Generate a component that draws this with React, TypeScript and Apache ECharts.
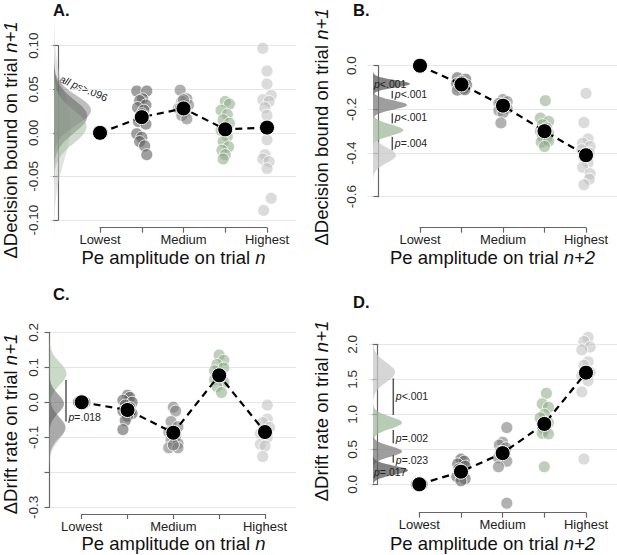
import React, { useEffect, useRef } from "react";
import * as echarts from "echarts";

// ---------- data ----------
const X_TICK_LABELS = ["Lowest", "", "Medium", "", "Highest"];

// Panel A: Δ decision bound (trial n+1) vs Pe amplitude on trial n
const A_Y_TICKS = ["-0.10", "-0.05", "0.00", "0.05", "0.10"];
const A_MEANS = [0, 0.018, 0.028, 0.004, 0.006];
const A_LOWEST = [[0.06, 0]];
const A_CAT2 = [[-0.12, 0.048], [0.12, 0.048], [0.02, 0.039], [-0.05, 0.037], [0.1, 0.032], [-0.1, 0.029], [0.05, 0.026], [0.0, 0.022], [-0.08, 0.013], [0.1, 0.01], [-0.12, -0.001], [0.0, -0.005], [-0.05, -0.01], [0.07, -0.015], [0.12, -0.025]];
const A_CAT3 = [[-0.08, 0.049], [0.08, 0.039], [-0.04, 0.036], [0.12, 0.032], [-0.12, 0.028], [0.04, 0.024], [-0.04, 0.02], [0.08, 0.016], [-0.08, 0.028], [0.0, 0.038]];
const A_CAT4 = [[0.0, 0.036], [0.1, 0.033], [-0.1, 0.026], [0.05, 0.021], [-0.05, 0.015], [0.1, 0.011], [-0.1, 0.003], [0.05, -0.004], [-0.05, -0.01], [0.08, -0.016], [-0.08, -0.02], [0.0, -0.025], [-0.05, -0.03]];
const A_CAT5 = [[-0.1, 0.097], [0.0, 0.071], [0.0, 0.056], [0.1, 0.043], [-0.1, 0.038], [0.05, 0.036], [-0.05, 0.029], [0.0, 0.02], [0.0, -0.008], [-0.05, -0.025], [-0.1, -0.03], [0.05, -0.033], [0.0, -0.041], [0.1, -0.075], [-0.08, -0.089]];
const A_DENSITY = [
  { cat: 5, mean: 0.008, sd: 0.04, h: 0.45 },
  { cat: 3, mean: 0.026, sd: 0.017, h: 1.0 },
  { cat: 2, mean: 0.019, sd: 0.019, h: 0.9 },
  { cat: 4, mean: 0.007, sd: 0.019, h: 0.88 },
];
const A_NOTE = "{i|all ps}>.096";

// Panel B: Δ decision bound (trial n+1) vs Pe amplitude on trial n+2
const B_Y_TICKS = ["-0.6", "-0.4", "-0.2", "0.0"];
const B_MEANS = [0, -0.086, -0.183, -0.3, -0.41];
const B_LOWEST: number[][] = [];
const B_CAT2 = [[-0.1, -0.055], [0.1, -0.062], [0.0, -0.072], [-0.12, -0.082], [0.12, -0.088], [-0.05, -0.097], [0.05, -0.105], [-0.1, -0.112], [0.08, -0.11]];
const B_CAT3 = [[0.0, -0.155], [0.1, -0.165], [-0.1, -0.172], [0.05, -0.18], [-0.05, -0.188], [0.1, -0.196], [-0.1, -0.205], [0.0, -0.215], [-0.05, -0.262]];
const B_CAT4 = [[0.02, -0.16], [-0.1, -0.24], [0.1, -0.255], [-0.05, -0.27], [0.05, -0.285], [-0.1, -0.3], [0.1, -0.31], [-0.05, -0.325], [0.05, -0.335], [-0.08, -0.35], [0.1, -0.345], [0.0, -0.37]];
const B_CAT5 = [[0.0, -0.127], [-0.05, -0.26], [0.05, -0.335], [-0.08, -0.355], [0.1, -0.37], [-0.1, -0.385], [0.08, -0.4], [-0.05, -0.42], [0.05, -0.445], [-0.08, -0.465], [0.1, -0.495], [0.08, -0.52], [-0.05, -0.545]];
const B_DENSITY = [
  { cat: 2, mean: -0.083, sd: 0.017, h: 1.0 },
  { cat: 3, mean: -0.18, sd: 0.021, h: 0.92 },
  { cat: 4, mean: -0.295, sd: 0.025, h: 0.82 },
  { cat: 5, mean: -0.41, sd: 0.035, h: 0.62 },
];
const B_ANNOT = [
  { text: "p<.001", at: -0.083 },
  { text: "p<.001", from: -0.116, to: -0.15, at: -0.131 },
  { text: "p<.001", from: -0.218, to: -0.264, at: -0.237 },
  { text: "p=.004", from: -0.326, to: -0.387, at: -0.353 },
];

// Panel C: Δ drift rate (trial n+1) vs Pe amplitude on trial n
const C_Y_TICKS = ["-0.3", "", "-0.1", "0.0", "0.1", "0.2"];
const C_MEANS = [0, -0.022, -0.087, 0.077, -0.085];
const C_LOWEST = [[-0.07, 0], [0.07, 0]];
const C_CAT2 = [[0.0, 0.02], [0.05, 0.014], [-0.1, 0.006], [0.1, 0.0], [-0.05, -0.008], [0.05, -0.015], [-0.1, -0.025], [0.1, -0.032], [0.0, -0.04], [-0.05, -0.052], [-0.1, -0.078]];
const C_CAT3 = [[0.0, -0.014], [0.05, -0.025], [-0.05, -0.055], [0.1, -0.07], [-0.1, -0.085], [0.05, -0.098], [-0.05, -0.108], [0.1, -0.118], [-0.1, -0.13], [0.1, -0.13], [0.0, -0.122]];
const C_CAT4 = [[0.0, 0.135], [0.1, 0.12], [-0.05, 0.108], [0.1, 0.098], [-0.1, 0.09], [0.05, 0.078], [-0.1, 0.065], [0.1, 0.058], [-0.05, 0.045], [0.05, 0.028]];
const C_CAT5 = [[0.05, -0.008], [0.05, -0.048], [-0.05, -0.058], [0.1, -0.072], [-0.1, -0.09], [0.05, -0.1], [-0.1, -0.12], [0.0, -0.125], [-0.05, -0.155]];
const C_DENSITY = [
  { cat: 4, mean: 0.082, sd: 0.032, h: 1.0 },
  { cat: 5, mean: -0.075, sd: 0.034, h: 0.9 },
  { cat: 3, mean: -0.072, sd: 0.03, h: 0.95 },
  { cat: 2, mean: -0.004, sd: 0.027, h: 0.85 },
];
const C_ANNOT = [{ text: "p=.018", from: 0.064, to: -0.055, at: -0.041 }];

// Panel D: Δ drift rate (trial n+1) vs Pe amplitude on trial n+2
const D_Y_TICKS = ["0.0", "0.5", "1.0", "1.5", "2.0"];
const D_MEANS = [0, 0.18, 0.445, 0.862, 1.595];
const D_LOWEST = [[-0.07, 0], [0.07, 0]];
const D_CAT2 = [[0.0, 0.36], [0.08, 0.33], [-0.08, 0.29], [0.1, 0.26], [-0.05, 0.22], [0.05, 0.15], [-0.1, 0.11], [0.1, 0.08], [0.0, 0.05]];
const D_CAT3 = [[0.1, 0.81], [0.0, 0.6], [-0.08, 0.56], [0.08, 0.52], [-0.05, 0.47], [0.05, 0.42], [-0.1, 0.38], [0.1, 0.33], [-0.1, 0.25], [0.1, -0.27]];
const D_CAT4 = [[0.05, 1.3], [-0.05, 1.15], [0.1, 1.1], [0.0, 1.0], [-0.1, 0.95], [0.1, 0.88], [0.0, 0.78], [-0.05, 0.73], [0.1, 0.72], [0.0, 0.25]];
const D_CAT5 = [[0.05, 2.1], [-0.05, 2.04], [0.1, 1.96], [-0.1, 1.92], [0.05, 1.75], [-0.05, 1.7], [0.1, 1.6], [-0.1, 1.55], [0.05, 1.48], [-0.1, 1.32], [-0.05, 0.36]];
const D_DENSITY = [
  { cat: 5, mean: 1.6, sd: 0.14, h: 0.63 },
  { cat: 4, mean: 0.88, sd: 0.085, h: 0.83 },
  { cat: 3, mean: 0.47, sd: 0.075, h: 0.83 },
  { cat: 2, mean: 0.2, sd: 0.065, h: 1.0 },
];
const D_ANNOT = [
  { text: "p<.001", from: 1.514, to: 0.99, at: 1.26 },
  { text: "p=.002", from: 0.776, to: 0.586, at: 0.666 },
  { text: "p=.023", from: 0.419, to: 0.309, at: 0.347 },
  { text: "p=.017", at: 0.18 },
];

// ---------- styles / layout ----------
const FONT = "'Liberation Sans', Arial, sans-serif";
const AXIS_COLOR = "#666";
const POINT_COLORS: Record<number, string> = {
  1: "rgba(80,80,80,0.85)",
  2: "rgba(95,95,95,0.75)",
  3: "rgba(120,120,120,0.72)",
  4: "rgba(140,170,135,0.7)",
  5: "rgba(190,190,190,0.7)",
};
const DENS_RGB: Record<number, string> = {
  2: "90,90,90",
  3: "125,125,125",
  4: "160,186,155",
  5: "200,200,200",
};

const PANELS = [
  {
    letter: "A.", letterPos: [53, 1.5],
    yTitle: "ΔDecision bound on trial {i|n+1}", yTitlePos: [10.5, 140],
    xTitle: "Pe amplitude on trial {i|n}", xTitlePos: [173.5, 257.3],
    geo: { axisX: 49.5, gridRight: 296, top: 45.7, bottom: 220, cat1: 100, cat5: 267, xAxisY: 227.7, yMin: -0.1, yMax: 0.1, yInt: 0.05, densStart: 54, densMax: 37, densAlpha: 0.5, annX: 0 },
    yTicks: A_Y_TICKS, means: A_MEANS, lowest: A_LOWEST, cats: [A_CAT2, A_CAT3, A_CAT4, A_CAT5], density: A_DENSITY, annot: [] as any[],
  },
  {
    letter: "B.", letterPos: [353, 1.5],
    yTitle: "ΔDecision bound on trial {i|n+1}", yTitlePos: [321, 127],
    xTitle: "Pe amplitude on trial {i|n+2}", xTitlePos: [492.5, 257.3],
    geo: { axisX: 367.5, gridRight: 617, top: 65.7, bottom: 196.7, cat1: 420, cat5: 586, xAxisY: 227.7, yMin: -0.6, yMax: 0, yInt: 0.2, densStart: 373, densMax: 37, densAlpha: 0.75, annX: 392.3 },
    yTicks: B_Y_TICKS, means: B_MEANS, lowest: B_LOWEST, cats: [B_CAT2, B_CAT3, B_CAT4, B_CAT5], density: B_DENSITY, annot: B_ANNOT,
  },
  {
    letter: "C.", letterPos: [53, 285],
    yTitle: "ΔDrift rate on trial {i|n+1}", yTitlePos: [10.5, 424],
    xTitle: "Pe amplitude on trial {i|n}", xTitlePos: [173.5, 543.5],
    geo: { axisX: 49.5, gridRight: 296, top: 332.3, bottom: 507.3, cat1: 81.7, cat5: 265, xAxisY: 514, yMin: -0.3, yMax: 0.2, yInt: 0.1, densStart: 49.5, densMax: 17, densAlpha: 0.55, annX: 66 },
    yTicks: C_Y_TICKS, means: C_MEANS, lowest: C_LOWEST, cats: [C_CAT2, C_CAT3, C_CAT4, C_CAT5], density: C_DENSITY, annot: C_ANNOT,
  },
  {
    letter: "D.", letterPos: [353, 293.5],
    yTitle: "ΔDrift rate on trial {i|n+1}", yTitlePos: [321, 411],
    xTitle: "Pe amplitude on trial {i|n+2}", xTitlePos: [492.5, 543.5],
    geo: { axisX: 368.5, gridRight: 617, top: 344.3, bottom: 484.3, cat1: 419.3, cat5: 586, xAxisY: 512.7, yMin: 0, yMax: 2, yInt: 0.5, densStart: 373, densMax: 35, densAlpha: 0.75, annX: 393.3 },
    yTicks: D_Y_TICKS, means: D_MEANS, lowest: D_LOWEST, cats: [D_CAT2, D_CAT3, D_CAT4, D_CAT5], density: D_DENSITY, annot: D_ANNOT,
  },
];

function italicP(t: string) {
  return t.startsWith("p") ? "{i|p}" + t.slice(1) : t;
}

function buildOption() {
  const grid: any[] = [];
  const xAxis: any[] = [];
  const yAxis: any[] = [];
  const series: any[] = [];
  const graphic: any[] = [];

  PANELS.forEach((p) => {
    const g = p.geo;
    const unit = (g.cat5 - g.cat1) / 4;
    const xmin = 1 - (g.cat1 - g.axisX) / unit;
    const xmax = 5 + (g.gridRight - g.cat5) / unit;
    const gi = grid.length;
    grid.push({ left: g.axisX, top: g.top, width: g.gridRight - g.axisX, height: g.bottom - g.top });
    grid.push({ left: g.cat1, top: g.xAxisY - 10, width: g.cat5 - g.cat1, height: 10 });

    xAxis.push({ type: "value", gridIndex: gi, min: xmin, max: xmax, show: false });
    xAxis.push({
      type: "value", gridIndex: gi + 1, min: 1, max: 5, interval: 1,
      axisLine: { show: true, lineStyle: { color: AXIS_COLOR, width: 1.2 } },
      axisTick: { show: true, length: 5, lineStyle: { color: AXIS_COLOR, width: 1.2 } },
      splitLine: { show: false },
      axisLabel: {
        formatter: (v: number) => X_TICK_LABELS[Math.round(v) - 1] ?? "",
        fontSize: 13, lineHeight: 12, color: "#222", margin: 6, fontFamily: FONT,
      },
    });
    const ticks = p.yTicks;
    yAxis.push({
      type: "value", gridIndex: gi, min: g.yMin, max: g.yMax, interval: g.yInt,
      axisLine: { show: true, lineStyle: { color: AXIS_COLOR, width: 1.2 } },
      axisTick: { show: true, length: 5, lineStyle: { color: AXIS_COLOR, width: 1.2 } },
      splitLine: { show: true, lineStyle: { color: "#e6e6e6", width: 1 } },
      axisLabel: {
        rotate: 90,
        formatter: (v: number) => ticks[Math.round((v - g.yMin) / g.yInt)] ?? "",
        fontSize: 13.5, color: "#333", margin: 9, fontFamily: FONT,
      },
    });
    yAxis.push({ type: "value", gridIndex: gi + 1, show: false, min: 0, max: 1 });

    const axisIdx = { xAxisIndex: gi, yAxisIndex: gi };

    // densities (half violins)
    const dens = p.density;
    series.push({
      type: "custom", ...axisIdx, clip: false, z: 1, silent: true,
      data: dens.map((d) => [1, d.mean]),
      renderItem: (params: any, api: any) => {
        const d = dens[params.dataIndex];
        const n = 60;
        const pts: number[][] = [];
        for (let i = 0; i <= n; i++) {
          const t = -3.6 + (7.2 * i) / n;
          const py = api.coord([1, d.mean + t * d.sd])[1];
          const w = g.densMax * d.h * Math.exp(-0.5 * t * t);
          pts.push([g.densStart + w, py]);
        }
        const poly = [[g.densStart, pts[0][1]], ...pts, [g.densStart, pts[n][1]]];
        return { type: "polygon", shape: { points: poly }, style: { fill: `rgba(${DENS_RGB[d.cat]},${g.densAlpha})` } };
      },
    });

    // lowest-category points (under the first mean)
    if (p.lowest.length) {
      series.push({
        type: "scatter", ...axisIdx, clip: false, z: 2, symbolSize: 12,
        itemStyle: { color: POINT_COLORS[1], borderColor: "#fff", borderWidth: 1 },
        data: p.lowest.map(([dx, v]) => [1 + dx, v]),
      });
    }
    // participant points per category
    p.cats.forEach((arr, ci) => {
      series.push({
        type: "scatter", ...axisIdx, clip: false, z: 2, symbolSize: 12,
        itemStyle: { color: POINT_COLORS[ci + 2], borderColor: "#fff", borderWidth: 1 },
        data: arr.map(([dx, v]) => [ci + 2 + dx, v]),
      });
    });
    // mean line
    series.push({
      type: "line", ...axisIdx, clip: false, z: 4,
      data: p.means.map((m, i) => [i + 1, m]),
      symbol: "circle", symbolSize: 15,
      itemStyle: { color: "#000", borderColor: "#fff", borderWidth: 1 },
      lineStyle: { color: "#000", width: 2.2, type: [7, 5] },
    });
    // p-value annotations
    const ann = p.annot;
    if (ann.length) {
      series.push({
        type: "custom", ...axisIdx, clip: false, z: 5, silent: true,
        data: ann.map((a: any) => [1, a.at]),
        renderItem: (params: any, api: any) => {
          const a = ann[params.dataIndex];
          const children: any[] = [];
          const ty = api.coord([1, a.at])[1];
          let tx = g.densStart + 1;
          if (a.from !== undefined) {
            const y1 = api.coord([1, a.from])[1];
            const y2 = api.coord([1, a.to])[1];
            children.push({ type: "line", shape: { x1: g.annX, y1, x2: g.annX, y2 }, style: { stroke: "#555", lineWidth: 1.5 } });
            tx = g.annX + 2.5;
          }
          children.push({
            type: "text",
            style: {
              text: italicP(a.text), x: tx, y: ty, align: "left", verticalAlign: "middle",
              fontSize: 10.5, lineHeight: 11, fontFamily: FONT, fill: "#222",
              rich: { i: { fontStyle: "italic", fontSize: 10.5, lineHeight: 11, fontFamily: FONT, fill: "#222" } },
            },
          });
          return { type: "group", children };
        },
      });
    }

    // titles
    graphic.push({
      type: "text", left: p.letterPos[0], top: p.letterPos[1],
      style: { text: p.letter, fontSize: 16.5, fontWeight: "bold", fontFamily: FONT, fill: "#111" },
    });
    graphic.push({
      type: "text", x: p.yTitlePos[0], y: p.yTitlePos[1], rotation: Math.PI / 2,
      style: {
        text: p.yTitle, fontSize: 18.5, lineHeight: 18, fontFamily: FONT, fill: "#111", align: "center", verticalAlign: "middle",
        rich: { i: { fontStyle: "italic", fontSize: 18.5, lineHeight: 18, fontFamily: FONT, fill: "#111" } },
      },
    });
    graphic.push({
      type: "text", x: p.xTitlePos[0], y: p.xTitlePos[1],
      style: {
        text: p.xTitle, fontSize: 18.5, lineHeight: 16, fontFamily: FONT, fill: "#111", align: "center", verticalAlign: "middle",
        rich: { i: { fontStyle: "italic", fontSize: 18.5, lineHeight: 16, fontFamily: FONT, fill: "#111" } },
      },
    });
  });

  // panel A note
  graphic.push({
    type: "text", x: 83.5, y: 88.5, rotation: -0.4,
    style: {
      text: A_NOTE, fontSize: 10.5, lineHeight: 11, fontFamily: FONT, fill: "#222", align: "center", verticalAlign: "middle",
      rich: { i: { fontStyle: "italic", fontSize: 10.5, lineHeight: 11, fontFamily: FONT, fill: "#222" } },
    },
  });

  return { animation: false, backgroundColor: "#fff", grid, xAxis, yAxis, series, graphic };
}

export default function App() {
  const ref = useRef<HTMLDivElement>(null);
  useEffect(() => {
    if (!ref.current) return;
    const chart = echarts.init(ref.current, undefined, { renderer: "svg" });
    chart.setOption(buildOption() as any);
    return () => chart.dispose();
  }, []);
  return <div ref={ref} style={{ position: "fixed", left: 0, top: 0, width: 617, height: 555 }} />;
}
